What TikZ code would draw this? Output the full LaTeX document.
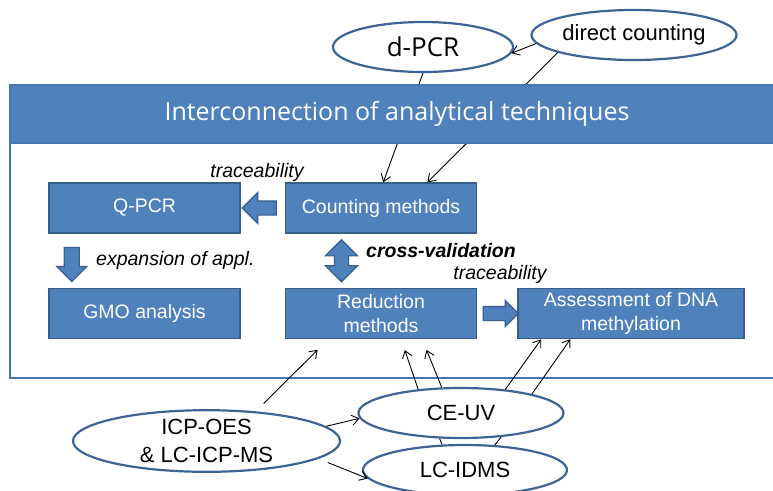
\documentclass[tikz,border=0pt]{standalone}
\usepackage{fontspec}
\setmainfont{Liberation Sans}
\newfontfamily\titlefont{Open Sans}
\usetikzlibrary{arrows.meta,positioning,calc,shapes.geometric,shapes.arrows}
\definecolor{boxblue}{RGB}{79,129,189}
\definecolor{boxedge}{RGB}{56,93,138}
\definecolor{ovaledge}{RGB}{60,101,150}
\definecolor{frameedge}{RGB}{70,118,174}
\tikzset{main base/.style={draw,thick,text centered, }, }
\tikzset{main node/.style={rectangle,main base,draw=boxedge,fill=boxblue,text=white,
    line width=1.5pt,minimum height=50pt,inner sep=2pt,align=center,
    font=\fontsize{19.5}{23.5}\selectfont}, }
\tikzset{main node2/.style={main node,minimum width=191pt}, }
\tikzset{oval/.style={ellipse,main base,draw=ovaledge,fill=white,line width=2.2pt,
    inner sep=0pt,align=center,font=\fontsize{22}{28}\selectfont}, }
\tikzset{fat arrow/.style={single arrow,main base,draw=boxedge,fill=boxblue,
    line width=1.2pt,inner sep=#1}, }
\tikzset{fat arrow2/.style={double arrow,main base,draw=boxedge,fill=boxblue,
    line width=1.2pt,inner sep=#1}, }
\tikzset{nota/.style={inner sep=0pt,font=\fontsize{19.5}{23.5}\selectfont\itshape}, }
\tikzset{linea/.style={-{Straight Barb[length=7pt,width=10pt]},line width=0.9pt,draw}}
\tikzset{linea2/.style={line width=0.9pt,draw}}
\tikzset{frame/.style={rectangle,draw=frameedge,line width=2.5pt,inner sep=0pt,
    minimum width=774pt}, }

\begin{document}
\begin{tikzpicture}[x=1pt,y=-1pt]
  \useasboundingbox (0,0) rectangle (773,490);
  % frame and ovals on top
  \node[frame,fill=white,minimum height=293pt] (0) at (397,231.5) {};
  \node[oval,minimum width=180pt,minimum height=50pt,
    font=\titlefont\fontsize{26}{30}\selectfont] (6) at (423,47) {d-PCR};
  \node[oval,minimum width=205pt,minimum height=50pt] (7) at (634,35) {direct counting};
  % boxes
  \node[main node2] (1) at (144.5,208) {Q-PCR};
  \node[main node2] (2) [right =44pt of 1] {Counting methods};
  \node[main node2] (3) [below =54pt of 1] {GMO analysis};
  \node[main node2] (4) [below =54pt of 2] {Reduction\\methods};
  \node[main node,minimum width=226pt] (5) [right =40pt of 4] {Assessment of DNA\\methylation};
  % lines behind the title bar
  \foreach \x/\y in {6.-90/2.85.4,7.-167/2.29.6}
    \path[linea] (\x) -- (\y);
  \node[frame,fill=boxblue,minimum height=58pt,text=white,
    font=\titlefont\fontsize{25}{30}\selectfont] (19) at (397,114)
    {Interconnection of analytical techniques};
  % block arrows
  \node[fat arrow=6.5pt,minimum height=34pt,single arrow head extend=8.5pt,
    shape border rotate=180] (11) at ($(1.east)!.5!(2.west)$) {};
  \node[fat arrow=7pt,minimum height=34pt,single arrow head extend=7.5pt,
    shape border rotate=270] (12) at ($(1.south west)!.5!(3.north west)+(23.5,0)$) {};
  \node[fat arrow2=6.5pt,minimum height=42pt,double arrow head extend=9pt,
    shape border rotate=90] (13) at ($(2.south)!.5!(4.north)+(-39.5,0)$) {};
  \node[fat arrow=6.5pt,minimum height=35pt,single arrow head extend=6pt]
    (14) at ($(4.east)!.5!(5.west)$) {};
  % labels
  \node[nota] (15) at (257,172) {traceability};
  \node[nota,anchor=west] (16) at (96,260) {expansion of appl.};
  \node[nota,anchor=west,font=\fontsize{19.5}{23.5}\selectfont\bfseries\itshape]
    (17) at (366,251) {cross-validation};
  \node[nota] (18) at (500,274) {traceability};
  % ovals below
  \node[oval,minimum width=267pt,minimum height=58pt] (8) at (206.5,441) {ICP-OES\\\& LC-ICP-MS};
  \node[oval,minimum width=205pt,minimum height=50pt] (9) at (461,413) {CE-UV};
  \node[oval,minimum width=204pt,minimum height=50pt] (10) at (465,470) {LC-IDMS};
  % connectors
  \path[linea] (7.-175) -- (6.-4);
  \path[linea,shorten <=11pt,shorten >=15pt] (8.31) -- (4.-154);
  \foreach \x/\y/\s in {9.151.5/4.-52.6/11.4,9.127.7/4.-32.2/11.5,9.28.5/5.-164.6/0,
      9.15.8/5.-157.7/0,8.7/9.183/0}
    \path[linea,shorten >=\s pt] (\x) -- (\y);
  \path[linea,shorten <=10pt] (8.-9) -- (10.185);
  \foreach \x/\y in {10.132/9.-130.6,10.40.6/9.-31.4}
    \path[linea2] (\x) -- (\y);
\end{tikzpicture}
\end{document}
